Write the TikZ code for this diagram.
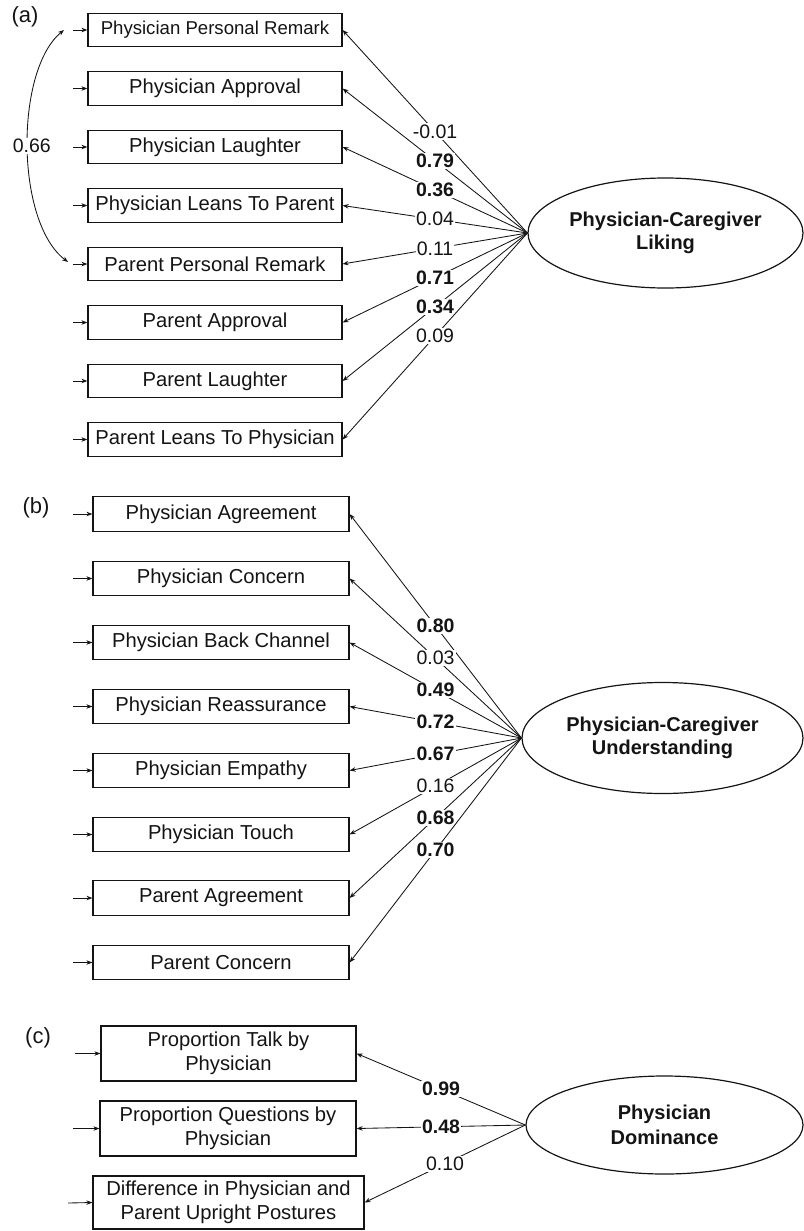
\documentclass[tikz,border=0pt]{standalone}
\usepackage{fontspec}
\setmainfont{Liberation Sans}
\usetikzlibrary{arrows.meta,shapes.geometric}
\definecolor{ink}{HTML}{141414}
\begin{document}
\begin{tikzpicture}[x=1pt,y=-1pt,
  box/.style={draw=ink, line width=1.2pt, inner sep=0pt, align=center, text=ink,
    font=\fontsize{20.2}{24}\selectfont},
  boxa/.style={box, minimum width=254pt, minimum height=33.5pt},
  boxb/.style={box, minimum width=256pt, minimum height=34.5pt},
  lat/.style={ellipse, draw=ink, line width=1.2pt, inner sep=0pt, align=center, text=ink,
    font=\bfseries\fontsize{20}{23.5}\selectfont},
  tip/.style={-{Stealth[length=6pt,width=4.5pt]}},
  load/.style={tip, draw=ink, line width=0.85pt},
  inarr/.style={tip, draw=ink, line width=0.85pt},
  lab/.style={fill=white, inner sep=1.2pt, pos=0.5, text=ink, font=\fontsize{19.5}{20}\selectfont},
  blab/.style={lab, font=\bfseries\fontsize{19.5}{20}\selectfont},
  tag/.style={text=ink, font=\fontsize{22}{24}\selectfont}
]
\useasboundingbox (0,0) rectangle (803,1231);

% ---------------- (a) ----------------
\node[tag] (ta) at (25,17) {(a)};
\node[boxa, font=\fontsize{18.6}{22}\selectfont] (a1) at (215,30) {Physician Personal Remark};
\node[boxa] (a2) at (215,88.5) {Physician Approval};
\node[boxa] (a3) at (215,147) {Physician Laughter};
\node[boxa] (a4) at (215,205.5) {Physician Leans To Parent};
\node[boxa] (a5) at (215,264) {Parent Personal Remark};
\node[boxa] (a6) at (215,322.5) {Parent Approval};
\node[boxa] (a7) at (215,381) {Parent Laughter};
\node[boxa] (a8) at (215,439.5) {Parent Leans To Physician};
\node[lat, minimum width=275pt, minimum height=110pt] (la) at (665.5,233) {Physician-Caregiver\\Liking};

\foreach \i/\y in {1/30,2/88.5,3/147,4/205.5,5/264,6/322.5,7/381,8/439.5}{
  \coordinate (ia\i) at (73,\y);
  \draw[inarr] (ia\i) -- (a\i.west);
}
\draw[load] (la.west) -- node[lab]{-0.01} (a1.east);
\draw[load] (la.west) -- node[blab]{0.79} (a2.east);
\draw[load] (la.west) -- node[blab]{0.36} (a3.east);
\draw[load] (la.west) -- node[lab]{0.04} (a4.east);
\draw[load] (la.west) -- node[lab]{0.11} (a5.east);
\draw[load] (la.west) -- node[blab]{0.71} (a6.east);
\draw[load] (la.west) -- node[blab]{0.34} (a7.east);
\draw[load] (la.west) -- node[lab]{0.09} (a8.east);

\coordinate (ca) at (64,30);
\coordinate (cb) at (68,262);
\draw[draw=ink, line width=0.85pt, {Stealth[length=6pt,width=4.5pt]}-{Stealth[length=6pt,width=4.5pt]}]
  (ca) .. controls (15,70) and (15,222) .. node[lab, xshift=4pt]{0.66} (cb);

% ---------------- (b) ----------------
\node[tag] (tb) at (36,508) {(b)};
\node[boxb] (b1) at (221,514) {Physician Agreement};
\node[boxb] (b2) at (221,578.5) {Physician Concern};
\node[boxb] (b3) at (221,642.5) {Physician Back Channel};
\node[boxb] (b4) at (221,706.5) {Physician Reassurance};
\node[boxb] (b5) at (221,770.5) {Physician Empathy};
\node[boxb] (b6) at (221,834.5) {Physician Touch};
\node[boxb] (b7) at (221,898) {Parent Agreement};
\node[boxb] (b8) at (221,962.5) {Parent Concern};
\node[lat, minimum width=281pt, minimum height=111pt] (lb) at (662.5,738) {Physician-Caregiver\\Understanding};

\foreach \i/\y in {1/514,2/578.5,3/642.5,4/706.5,5/770.5,6/834.5,7/898,8/962.5}{
  \coordinate (ib\i) at (73,\y);
  \draw[inarr] (ib\i) -- (b\i.west);
}
\draw[load] (lb.west) -- node[blab]{0.80} (b1.east);
\draw[load] (lb.west) -- node[lab]{0.03} (b2.east);
\draw[load] (lb.west) -- node[blab]{0.49} (b3.east);
\draw[load] (lb.west) -- node[blab]{0.72} (b4.east);
\draw[load] (lb.west) -- node[blab]{0.67} (b5.east);
\draw[load] (lb.west) -- node[lab]{0.16} (b6.east);
\draw[load] (lb.west) -- node[blab]{0.68} (b7.east);
\draw[load] (lb.west) -- node[blab]{0.70} (b8.east);

% ---------------- (c) ----------------
\node[tag] (tc) at (38,1038) {(c)};
\node[box, minimum width=255pt, minimum height=55pt] (c1) at (228.5,1053.5) {Proportion Talk by\\Physician};
\node[box, minimum width=256pt, minimum height=55pt] (c2) at (228,1128.5) {Proportion Questions by\\Physician};
\node[box, minimum width=271pt, minimum height=53pt] (c3) at (228.5,1202.5) {Difference in Physician and\\Parent Upright Postures};
\node[lat, minimum width=277pt, minimum height=98pt, font=\bfseries\fontsize{20}{25}\selectfont] (lc) at (664.5,1125) {Physician\\Dominance};

\coordinate (ic1) at (75,1053.5);
\coordinate (ic2) at (73,1128.5);
\coordinate (ic3) at (68,1203);
\draw[inarr] (ic1) -- (c1.west);
\draw[inarr] (ic2) -- (c2.west);
\draw[inarr] (ic3) -- (c3.west);
\draw[load] (lc.west) -- node[blab]{0.99} (c1.east);
\draw[load] (lc.west) -- node[blab]{0.48} (c2.east);
\draw[load] (lc.west) -- node[lab]{0.10} (c3.east);
\end{tikzpicture}
\end{document}
